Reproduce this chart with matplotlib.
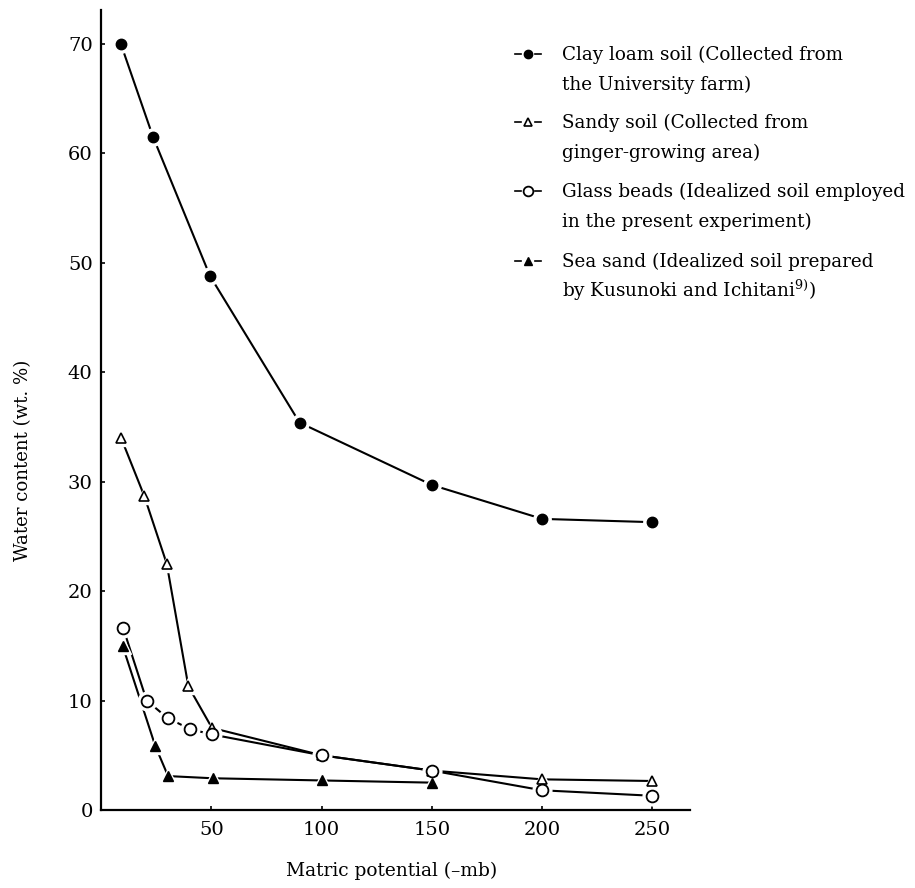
import matplotlib
matplotlib.use("Agg")
import matplotlib.pyplot as plt
from matplotlib.lines import Line2D

plt.rcParams['font.family'] = ['DejaVu Serif']
plt.rcParams['mathtext.fontset'] = 'custom'
plt.rcParams['mathtext.rm'] = 'DejaVu Serif'

# ---- data ----
clay_x = [9, 23.6, 49.4, 90, 150, 200, 250]
clay_y = [70.0, 61.5, 48.8, 35.4, 29.7, 26.6, 26.3]

sandy_x = [9.1, 19.6, 29.8, 39.6, 50.3, 100, 150, 200, 250]
sandy_y = [34.0, 28.7, 22.5, 11.3, 7.5, 5.0, 3.6, 2.8, 2.65]

glass_x = [10.1, 20.7, 30.2, 40.3, 50.3, 100, 150, 200, 250]
glass_y = [16.6, 10.0, 8.4, 7.4, 6.9, 5.0, 3.6, 1.8, 1.3]

sea_x = [9.8, 24.6, 30.4, 50.6, 100, 150]
sea_y = [15.0, 5.85, 3.1, 2.9, 2.7, 2.5]

xticks = [50, 100, 150, 200, 250]
yticks = [0, 10, 20, 30, 40, 50, 60, 70]

labels = [
    ("Clay loam soil (Collected from", "the University farm)"),
    ("Sandy soil (Collected from", "ginger-growing area)"),
    ("Glass beads (Idealized soil employed", "in the present experiment)"),
    ("Sea sand (Idealized soil prepared", r"by Kusunoki and Ichitani$^{\mathrm{9)}}$)"),
]

W, H = 915, 888
fig = plt.figure(figsize=(W / 100, H / 100), dpi=100)
ax = fig.add_axes([101 / W, 1 - 810 / H, (690 - 101) / W, (810 - 10) / H])
ax.set_xlim(0, 267)
ax.set_ylim(0, 73.1)

styles = [
    (clay_x, clay_y, dict(marker='o', mfc='black', mec='black', ms=7.5)),
    (sandy_x, sandy_y, dict(marker='^', mfc='white', mec='black', ms=7, mew=1.2)),
    (glass_x, glass_y, dict(marker='o', mfc='white', mec='black', ms=8.5, mew=1.3)),
    (sea_x, sea_y, dict(marker='^', mfc='black', mec='black', ms=7)),
]

for xs, ys, st in styles:
    ax.plot(xs, ys, '-', color='black', lw=1.5, zorder=2, solid_capstyle='butt')
for xs, ys, st in styles:
    ax.plot(xs, ys, linestyle='none', marker=st['marker'], ms=st['ms'] + 5,
            mfc='white', mec='white', zorder=3)
for xs, ys, st in styles:
    ax.plot(xs, ys, linestyle='none', zorder=4, **st)

for s in ['top', 'right']:
    ax.spines[s].set_visible(False)
for s in ['left', 'bottom']:
    ax.spines[s].set_linewidth(1.6)

ax.set_xticks(xticks)
ax.set_yticks(yticks)
ax.tick_params(axis='both', direction='in', length=3, width=1.2, labelsize=14)
ax.tick_params(axis='x', pad=8)
ax.tick_params(axis='y', pad=6)

fig.text(23 / W, 1 - 460 / H, "Water content (wt. %)", rotation=90,
         ha='center', va='center', fontsize=13.1)
fig.text(392 / W, 1 - 871 / H, "Matric potential (\u2013mb)",
         ha='center', va='center', fontsize=13.4)

# ---- legend drawn manually ----
first_base = [60, 128, 197, 267]
for (l1, l2), yb, (_, _, st) in zip(labels, first_base, styles):
    fig.text(562 / W, 1 - yb / H, l1, ha='left', va='baseline', fontsize=13.2)
    fig.text(562 / W, 1 - (yb + 30) / H, l2, ha='left', va='baseline', fontsize=13.2)
    yc = 1 - (yb - 6) / H
    fig.add_artist(Line2D([515 / W, 521 / W], [yc, yc], color='black', lw=1.2,
                          transform=fig.transFigure))
    fig.add_artist(Line2D([535 / W, 541 / W], [yc, yc], color='black', lw=1.2,
                          transform=fig.transFigure))
    lst = dict(st)
    lst['ms'] = st['ms'] - 1.5
    fig.add_artist(Line2D([528 / W], [yc], linestyle='none',
                          transform=fig.transFigure, **lst))

fig.savefig("out.png", dpi=100)
